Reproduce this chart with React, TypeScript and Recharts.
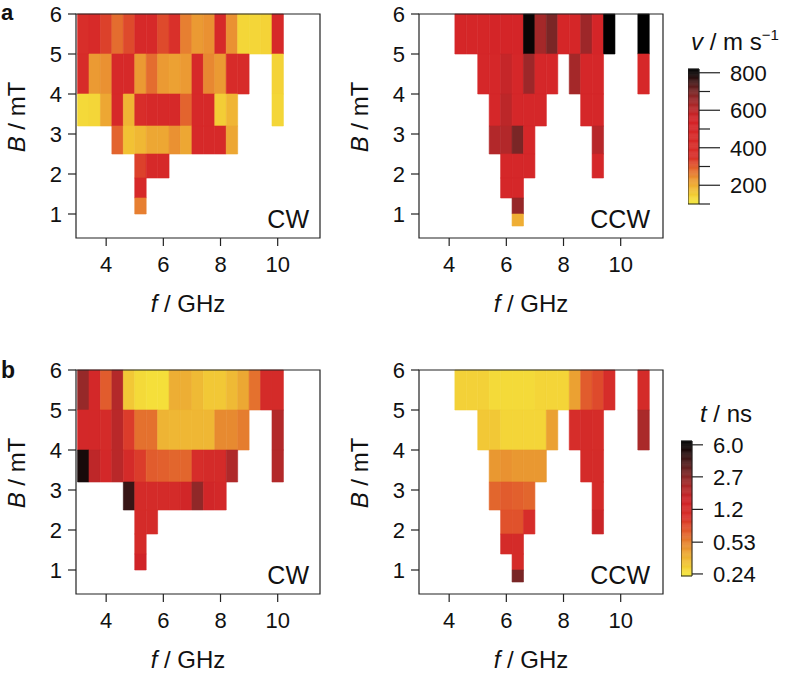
import React from 'react';
import { ComposedChart, XAxis, YAxis, ReferenceArea } from 'recharts';

const FONT = '"Liberation Sans", Arial, Helvetica, sans-serif';

// ---- grid ----
const fCenters = [3.2, 3.6, 4.0, 4.4, 4.8, 5.2, 5.6, 6.0, 6.4, 6.8, 7.2, 7.6, 8.0, 8.4, 8.8, 9.2, 9.6, 10.0, 10.4, 10.8];
const fWidth = 0.4;
const bEdges = [6, 5, 4, 3.2, 2.5, 1.9, 1.4, 1.0, 0.7];
const fTicks = [4, 6, 8, 10];
const bTicks = [1, 2, 3, 4, 5, 6];
const fDomain: [number, number] = [2.945, 11.48];
const bDomain: [number, number] = [0.4, 6];

const _ = null;

// ---- velocity v (m/s) ----
const vCW = [
  [380, 450, 330, 280, 320, 460, 460, 320, 350, 260, 230, 240, 460, 240, 135, 135, 140, 460, _, _],
  [420, 230, 240, 460, 460, 230, 280, 230, 220, 230, 460, 250, 230, 440, 440, _, _, 140, _, _],
  [130, 135, 210, 460, 190, 400, 460, 460, 460, 290, 460, 460, 150, 190, _, _, _, 135, _, _],
  [_, _, _, 290, 170, 185, 210, 210, 240, 210, 460, 460, 460, 210, _, _, _, _, _, _],
  [_, _, _, _, _, 330, 460, 460, _, _, _, _, _, _, _, _, _, _, _, _],
  [_, _, _, _, _, 460, _, _, _, _, _, _, _, _, _, _, _, _, _, _],
  [_, _, _, _, _, 260, _, _, _, _, _, _, _, _, _, _, _, _, _, _],
  [_, _, _, _, _, _, _, _, _, _, _, _, _, _, _, _, _, _, _, _],
];
const vCCW = [
  [_, _, _, 520, 520, 520, 540, 540, 540, 800, 640, 700, 520, 520, 650, 540, 820, _, _, 820],
  [_, _, _, _, _, 500, 500, 580, 500, 650, 500, 500, _, 640, 500, 500, _, _, _, 480],
  [_, _, _, _, _, _, 500, 600, 500, 500, 500, _, _, _, 500, 500, _, _, _, _],
  [_, _, _, _, _, _, 620, 620, 700, 500, _, _, _, _, _, 610, _, _, _, _],
  [_, _, _, _, _, _, _, 500, 500, 500, _, _, _, _, _, 500, _, _, _, _],
  [_, _, _, _, _, _, _, 500, 500, _, _, _, _, _, _, _, _, _, _, _],
  [_, _, _, _, _, _, _, _, 660, _, _, _, _, _, _, _, _, _, _, _],
  [_, _, _, _, _, _, _, _, 200, _, _, _, _, _, _, _, _, _, _, _],
];

// ---- time t (ns) ----
const tCW = [
  [2.5, 1.3, 0.7, 2.0, 0.3, 0.26, 0.25, 0.25, 0.38, 0.38, 0.34, 0.3, 0.3, 0.34, 0.4, 0.6, 1.2, 1.2, _, _],
  [1.3, 1.3, 1.2, 1.9, 0.9, 0.6, 0.6, 0.36, 0.35, 0.35, 0.35, 0.35, 0.5, 0.5, 0.55, _, _, 2.0, _, _],
  [5.5, 1.8, 1.3, 1.9, 1.2, 0.9, 0.7, 0.68, 0.65, 0.65, 1.1, 1.2, 1.2, 2.1, _, _, _, 2.0, _, _],
  [_, _, _, _, 4.5, 1.2, 1.2, 1.2, 1.2, 1.4, 2.6, 1.4, 1.3, _, _, _, _, _, _, _],
  [_, _, _, _, _, 1.2, 1.2, _, _, _, _, _, _, _, _, _, _, _, _, _],
  [_, _, _, _, _, 1.2, _, _, _, _, _, _, _, _, _, _, _, _, _, _],
  [_, _, _, _, _, 1.5, _, _, _, _, _, _, _, _, _, _, _, _, _, _],
  [_, _, _, _, _, _, _, _, _, _, _, _, _, _, _, _, _, _, _, _],
];
const tCCW = [
  [_, _, _, 0.28, 0.28, 0.28, 0.26, 0.26, 0.26, 0.26, 0.27, 0.27, 0.27, 0.42, 0.7, 0.8, 1.1, _, _, 1.2],
  [_, _, _, _, _, 0.3, 0.3, 0.27, 0.27, 0.27, 0.27, 0.42, _, 1.1, 1.2, 1.15, _, _, _, 2.2],
  [_, _, _, _, _, _, 0.45, 0.47, 0.45, 0.45, 0.45, _, _, _, 1.2, 1.2, _, _, _, _],
  [_, _, _, _, _, _, 0.65, 0.7, 0.68, 0.65, _, _, _, _, _, 1.2, _, _, _, _],
  [_, _, _, _, _, _, _, 0.75, 0.75, 1.1, _, _, _, _, _, 1.6, _, _, _, _],
  [_, _, _, _, _, _, _, 1.2, 1.2, _, _, _, _, _, _, _, _, _, _, _],
  [_, _, _, _, _, _, _, _, 1.2, _, _, _, _, _, _, _, _, _, _, _],
  [_, _, _, _, _, _, _, _, 3.0, _, _, _, _, _, _, _, _, _, _, _],
];

// ---- colour scales ----
const vDomain: [number, number] = [100, 820];
const vStops = [100, 170, 230, 290, 350, 550, 620, 700, 760, 800, 820];
const vColors = ['#f6ea3c', '#f2c234', '#eb9a33', '#e3642e', '#d9302a', '#d42428', '#b2282a', '#7a2626', '#3c1616', '#0a0505', '#000000'];
const vTicksMajor = [200, 400, 600, 800];
const vTicksAll = [100, 200, 300, 400, 500, 600, 700, 800];

const tDomain: [number, number] = [0.228, 6.6];
const tStops = [0.228, 0.3, 0.4, 0.53, 0.75, 1.0, 1.5, 2.2, 2.7, 4.0, 6.0, 6.6];
const tColors = ['#f6ea3c', '#f2c836', '#eca833', '#e6822f', '#e0522c', '#d8302a', '#d02428', '#aa2a2a', '#8a2828', '#4a1c1c', '#0a0505', '#000000'];
const tTicks = [0.24, 0.53, 1.2, 2.7, 6.0];
const tTickLabels = ['0.24', '0.53', '1.2', '2.7', '6.0'];

function hexToRgb(h: string) {
  return [parseInt(h.slice(1, 3), 16), parseInt(h.slice(3, 5), 16), parseInt(h.slice(5, 7), 16)];
}
function makeCmap(stops: number[], colors: string[], log: boolean) {
  const tr = (v: number) => (log ? Math.log(v) : v);
  return (val: number) => {
    const x = tr(val);
    const s = stops.map(tr);
    if (x <= s[0]) return colors[0];
    for (let i = 1; i < s.length; i++) {
      if (x <= s[i]) {
        const k = (x - s[i - 1]) / (s[i] - s[i - 1]);
        const a = hexToRgb(colors[i - 1]);
        const b = hexToRgb(colors[i]);
        const c = a.map((av, j) => Math.round(av + (b[j] - av) * k));
        return `rgb(${c[0]},${c[1]},${c[2]})`;
      }
    }
    return colors[colors.length - 1];
  };
}
const vCmap = makeCmap(vStops, vColors, false);
const tCmap = makeCmap(tStops, tColors, true);

const TICK_FS = 22;
const tickStyle = { fill: '#111', fontSize: TICK_FS, fontFamily: FONT };

function HeatPanel({ data, left, top, cmap }: { data: (number | null)[][]; left: number; top: number; cmap: (v: number) => string }) {
  const cells: { x1: number; x2: number; y1: number; y2: number; color: string }[] = [];
  data.forEach((row, r) =>
    row.forEach((val, c) => {
      if (val == null) return;
      cells.push({
        x1: fCenters[c] - fWidth / 2,
        x2: fCenters[c] + fWidth / 2,
        y1: bEdges[r + 1],
        y2: bEdges[r],
        color: cmap(val),
      });
    })
  );
  return (
    <div style={{ position: 'absolute', left, top }}>
      <ComposedChart width={330} height={330} margin={{ top: 14, right: 10, bottom: 0, left: 0 }}>
        <XAxis
          type="number"
          dataKey="f"
          domain={fDomain}
          ticks={fTicks}
          allowDataOverflow
          interval={0}
          height={92}
          tickSize={8}
          tickMargin={10}
          axisLine={false}
          tickLine={{ stroke: '#222', strokeWidth: 1.2 }}
          tick={tickStyle}
        />
        <YAxis
          type="number"
          dataKey="b"
          domain={bDomain}
          ticks={bTicks}
          allowDataOverflow
          interval={0}
          width={76}
          tickSize={8}
          tickMargin={6}
          axisLine={false}
          tickLine={{ stroke: '#222', strokeWidth: 1.2 }}
          tick={tickStyle}
        />
        {cells.map((c, i) => (
          <ReferenceArea
            key={i}
            x1={c.x1}
            x2={c.x2}
            y1={c.y1}
            y2={c.y2}
            fill={c.color}
            fillOpacity={1}
            stroke={c.color}
            strokeWidth={0.6}
            ifOverflow="visible"
          />
        ))}
        <ReferenceArea
          x1={fDomain[0]}
          x2={fDomain[1]}
          y1={bDomain[0]}
          y2={bDomain[1]}
          fill="none"
          fillOpacity={0}
          stroke="#222"
          strokeWidth={1.2}
          ifOverflow="visible"
        />
      </ComposedChart>
    </div>
  );
}

function makeBarTick(major: (v: number) => boolean, label: (v: number) => string, longLen: number, shortLen: number, gap: number) {
  return (props: any) => {
    const { x, y, payload } = props;
    const isMajor = major(payload.value);
    return (
      <g>
        <line x1={x} x2={x + (isMajor ? longLen : shortLen)} y1={y} y2={y} stroke="#222" strokeWidth={1.2} />
        {isMajor && (
          <text x={x + gap} y={y} dy="0.36em" fontSize={TICK_FS} fontFamily={FONT} fill="#111">
            {label(payload.value)}
          </text>
        )}
      </g>
    );
  };
}

type BarProps = {
  left: number;
  top: number;
  width: number;
  height: number;
  marginTop: number;
  marginBottom: number;
  axisWidth: number;
  domain: [number, number];
  log: boolean;
  ticks: number[];
  tick: any;
  cmap: (v: number) => string;
};

function ColorBar({ left, top, width, height, marginTop, marginBottom, axisWidth, domain, log, ticks, tick, cmap }: BarProps) {
  const n = 120;
  const slices: { y1: number; y2: number; color: string }[] = [];
  for (let i = 0; i < n; i++) {
    let a: number, b: number;
    if (log) {
      const l0 = Math.log(domain[0]);
      const l1 = Math.log(domain[1]);
      a = Math.exp(l0 + ((l1 - l0) * i) / n);
      b = Math.exp(l0 + ((l1 - l0) * (i + 1)) / n);
    } else {
      a = domain[0] + ((domain[1] - domain[0]) * i) / n;
      b = domain[0] + ((domain[1] - domain[0]) * (i + 1)) / n;
    }
    const mid = log ? Math.sqrt(a * b) : (a + b) / 2;
    slices.push({ y1: a, y2: b, color: cmap(mid) });
  }
  const barData = [{ x: 0 }, { x: 1 }];
  return (
    <div style={{ position: 'absolute', left, top }}>
      <ComposedChart width={width} height={height} data={barData} margin={{ top: marginTop, right: 0, bottom: marginBottom, left: 0 }}>
        <XAxis type="number" dataKey="x" domain={[0, 1]} allowDataOverflow height={0} tick={false} tickLine={false} axisLine={false} />
        <YAxis
          type="number"
          scale={log ? 'log' : 'auto'}
          orientation="right"
          domain={domain}
          allowDataOverflow
          ticks={ticks}
          interval={0}
          width={axisWidth}
          tickSize={0}
          tickMargin={0}
          axisLine={false}
          tickLine={false}
          tick={tick}
        />
        {slices.map((s, i) => (
          <ReferenceArea key={i} x1={0} x2={1} y1={s.y1} y2={s.y2} fill={s.color} fillOpacity={1} stroke={s.color} strokeWidth={0.5} ifOverflow="visible" />
        ))}
        <ReferenceArea x1={0} x2={1} y1={domain[0]} y2={domain[1]} fill="none" fillOpacity={0} stroke="#222" strokeWidth={1} ifOverflow="visible" />
      </ComposedChart>
    </div>
  );
}

const TITLE_FS = 24;

function Overlay() {
  const yLab = (x: number, y: number) => (
    <text transform={`translate(${x},${y}) rotate(-90)`} textAnchor="middle" fontSize={TITLE_FS} fontFamily={FONT} fill="#111">
      <tspan fontStyle="italic">B</tspan>
      <tspan> / mT</tspan>
    </text>
  );
  const xLab = (x: number, y: number) => (
    <text x={x} y={y} textAnchor="middle" fontSize={TITLE_FS} fontFamily={FONT} fill="#111">
      <tspan fontStyle="italic">f</tspan>
      <tspan> / GHz</tspan>
    </text>
  );
  return (
    <svg width={788} height={677} style={{ position: 'absolute', left: 0, top: 0, pointerEvents: 'none' }}>
      <text x={1} y={20} fontSize={22} fontWeight="bold" fontFamily={FONT} fill="#111">a</text>
      <text x={1} y={378} fontSize={23} fontWeight="bold" fontFamily={FONT} fill="#111">b</text>
      {yLab(25, 117)}
      {yLab(368, 117)}
      {yLab(25, 473)}
      {yLab(368, 473)}
      {xLab(188, 312)}
      {xLab(531, 312)}
      {xLab(188, 668)}
      {xLab(531, 668)}
      <text x={309} y={228} textAnchor="end" fontSize={25} fontFamily={FONT} fill="#111">CW</text>
      <text x={650} y={228} textAnchor="end" fontSize={25} fontFamily={FONT} fill="#111">CCW</text>
      <text x={309} y={584} textAnchor="end" fontSize={25} fontFamily={FONT} fill="#111">CW</text>
      <text x={650} y={584} textAnchor="end" fontSize={25} fontFamily={FONT} fill="#111">CCW</text>
      <text x={691} y={50} fontSize={TITLE_FS} fontFamily={FONT} fill="#111">
        <tspan fontStyle="italic">v</tspan>
        <tspan> / m s</tspan>
        <tspan fontSize={15} dy={-10}>−1</tspan>
      </text>
      <text x={700} y={422} fontSize={TITLE_FS} fontFamily={FONT} fill="#111">
        <tspan fontStyle="italic">t</tspan>
        <tspan> / ns</tspan>
      </text>
    </svg>
  );
}

export default function App() {
  return (
    <div style={{ position: 'absolute', left: 0, top: 0, width: 788, height: 677, background: '#fff', overflow: 'hidden', fontFamily: FONT }}>
      <HeatPanel data={vCW} left={0} top={0} cmap={vCmap} />
      <HeatPanel data={vCCW} left={343} top={0} cmap={vCmap} />
      <HeatPanel data={tCW} left={0} top={356} cmap={tCmap} />
      <HeatPanel data={tCCW} left={343} top={356} cmap={tCmap} />
      <ColorBar
        left={688}
        top={0}
        width={100}
        height={220}
        marginTop={69}
        marginBottom={16}
        axisWidth={89}
        domain={vDomain}
        log={false}
        ticks={vTicksAll}
        tick={makeBarTick((v) => vTicksMajor.includes(v), (v) => String(v), 21, 11, 31)}
        cmap={vCmap}
      />
      <ColorBar
        left={681}
        top={380}
        width={107}
        height={220}
        marginTop={61}
        marginBottom={24}
        axisWidth={96}
        domain={tDomain}
        log={true}
        ticks={tTicks}
        tick={makeBarTick(() => true, (v) => tTickLabels[tTicks.indexOf(v)] ?? String(v), 11, 11, 21)}
        cmap={tCmap}
      />
      <Overlay />
    </div>
  );
}
